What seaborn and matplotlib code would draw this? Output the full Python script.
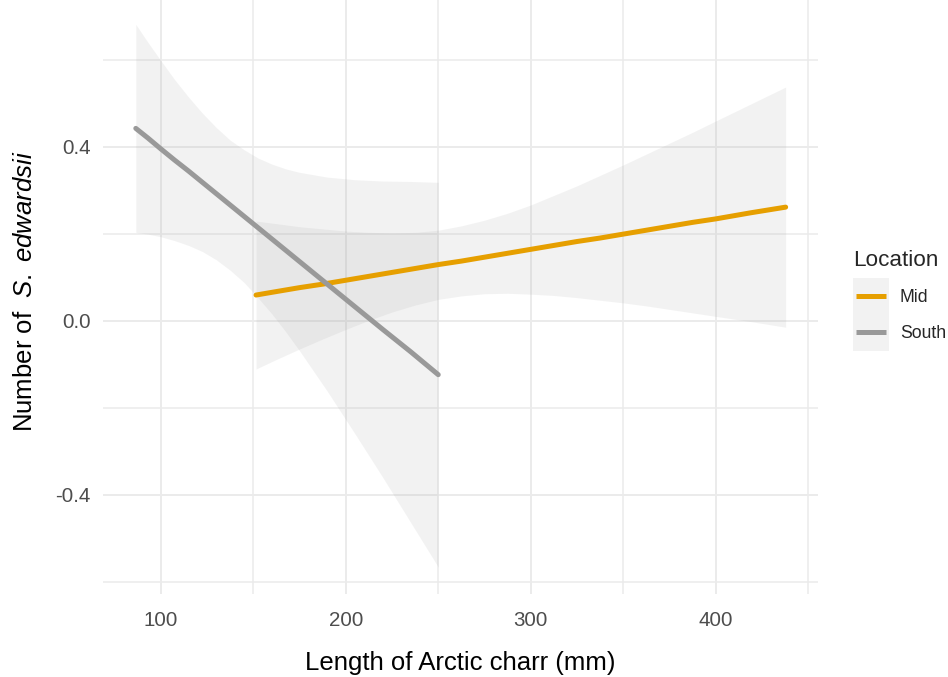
import matplotlib
matplotlib.use("Agg")
import matplotlib.pyplot as plt
import pandas as pd
import seaborn as sns
from matplotlib.legend_handler import HandlerBase
from matplotlib.lines import Line2D
from matplotlib.patches import Rectangle

# fitted line and confidence band, per location
locations = ["Mid", "South"]
colors = {"Mid": "#E69F00", "South": "#999999"}

mid_length = [151.5, 162.5, 175, 187.5, 200, 212.5, 225, 237.5, 250, 262.5, 275, 287.5,
              300, 312.5, 325, 337.5, 350, 362.5, 375, 387.5, 400, 418.9, 437.8]
mid_fit = [0.059, 0.067, 0.076, 0.084, 0.093, 0.102, 0.111, 0.120, 0.129, 0.137, 0.146, 0.155,
           0.164, 0.173, 0.182, 0.190, 0.199, 0.208, 0.217, 0.226, 0.234, 0.248, 0.261]
mid_lower = [-0.111, -0.089, -0.065, -0.042, -0.020, 0.001, 0.020, 0.036, 0.049, 0.057, 0.062, 0.063,
             0.061, 0.058, 0.053, 0.047, 0.041, 0.034, 0.026, 0.018, 0.010, -0.002, -0.015]
mid_upper = [0.229, 0.223, 0.216, 0.211, 0.206, 0.203, 0.202, 0.203, 0.208, 0.218, 0.231, 0.247,
             0.266, 0.288, 0.310, 0.334, 0.358, 0.383, 0.408, 0.433, 0.459, 0.498, 0.537]

south_length = [86.5, 93, 100, 107.5, 115, 122.5, 130, 137.5, 145, 152.5, 160, 167.5,
                175, 190, 205, 220, 235, 250]
south_fit = [0.442, 0.420, 0.395, 0.369, 0.344, 0.318, 0.292, 0.266, 0.240, 0.214, 0.188, 0.162,
             0.136, 0.084, 0.032, -0.020, -0.071, -0.124]
south_lower = [0.203, 0.199, 0.193, 0.184, 0.173, 0.159, 0.140, 0.116, 0.088, 0.053, 0.016, -0.025,
               -0.069, -0.162, -0.260, -0.360, -0.463, -0.566]
south_upper = [0.681, 0.640, 0.598, 0.554, 0.514, 0.477, 0.444, 0.415, 0.393, 0.374, 0.360, 0.349,
               0.341, 0.330, 0.324, 0.321, 0.320, 0.318]

x_major = [100, 200, 300, 400]
x_minor = [150, 250, 350, 450]
y_major = [-0.4, 0.0, 0.4]
y_minor = [-0.6, -0.2, 0.2, 0.6]

df = pd.concat([
    pd.DataFrame({"Location": "Mid", "length": mid_length, "fit": mid_fit,
                  "lower": mid_lower, "upper": mid_upper}),
    pd.DataFrame({"Location": "South", "length": south_length, "fit": south_fit,
                  "lower": south_lower, "upper": south_upper}),
])


class KeyHandler(HandlerBase):
    """ggplot-like key: grey band square with the line centred across it."""
    def create_artists(self, legend, orig_handle, xdescent, ydescent,
                       width, height, fontsize, trans):
        bg = Rectangle((-xdescent, -ydescent), width, height, fc="#999999",
                       alpha=0.12, ec="none", transform=trans)
        yc = height / 2 - ydescent
        x0 = -xdescent + 0.08 * width
        x1 = -xdescent + 0.92 * width
        ln = Line2D([x0, x1], [yc, yc], color=orig_handle.get_color(),
                    lw=orig_handle.get_linewidth(), solid_capstyle="butt",
                    transform=trans)
        return [bg, ln]


sns.set_theme(style="white")
plt.rcParams["font.family"] = ["Liberation Sans", "DejaVu Sans"]
plt.rcParams["mathtext.fontset"] = "custom"
plt.rcParams["mathtext.rm"] = "Liberation Sans"
plt.rcParams["mathtext.it"] = "Liberation Sans:italic"
plt.rcParams["axes.unicode_minus"] = False

fig = plt.figure(figsize=(9.48, 6.77), dpi=100)
ax = fig.add_axes([0.1089, 0.1226, 0.7542, 0.8774])

for loc in locations:
    sub = df[df["Location"] == loc]
    ax.fill_between(sub["length"], sub["lower"], sub["upper"],
                    color="#999999", alpha=0.12, lw=0, zorder=2)

sns.lineplot(data=df, x="length", y="fit", hue="Location", palette=colors,
             linewidth=3.6, legend=False, estimator=None, ax=ax, zorder=3)

ax.set_xlim(68.9, 455.4)
ax.set_ylim(-0.628, 0.737)
ax.set_xticks(x_major)
ax.set_xticks(x_minor, minor=True)
ax.set_yticks(y_major)
ax.set_yticks(y_minor, minor=True)
ax.set_yticklabels(["-0.4", "0.0", "0.4"])
ax.grid(which="major", color="#EBEBEB", lw=1.4)
ax.grid(which="minor", color="#EBEBEB", lw=1.1)
ax.set_axisbelow(True)
ax.tick_params(which="both", length=0)
ax.tick_params(axis="x", labelsize=14.8, labelcolor="#4D4D4D", pad=12.5)
ax.tick_params(axis="y", labelsize=14.8, labelcolor="#4D4D4D", pad=9)
for s in ax.spines.values():
    s.set_visible(False)

ax.set_xlabel("Length of Arctic charr (mm)", fontsize=18.5, color="black")
ax.set_ylabel(r"Number of  $\mathit{S.\ edwardsii}$", fontsize=18.5, color="black")
ax.xaxis.set_label_coords(0.5, -0.0965)
ax.yaxis.set_label_coords(-0.092, 0.51)

handles = [Line2D([], [], color=colors[loc], lw=3.6) for loc in locations]
leg = fig.legend(handles, locations, title="Location", loc="upper left",
                 bbox_to_anchor=(853 / 948, 1 - 250 / 677), frameon=False,
                 fontsize=12.7, title_fontsize=16.2, handlelength=2.05,
                 handleheight=2.77, labelspacing=0, handletextpad=0.6,
                 borderpad=0, borderaxespad=0, alignment="left",
                 handler_map={Line2D: KeyHandler()})
leg._legend_box.sep = 5.3  # small gap between title and keys

fig.savefig("out.png", dpi=100)
